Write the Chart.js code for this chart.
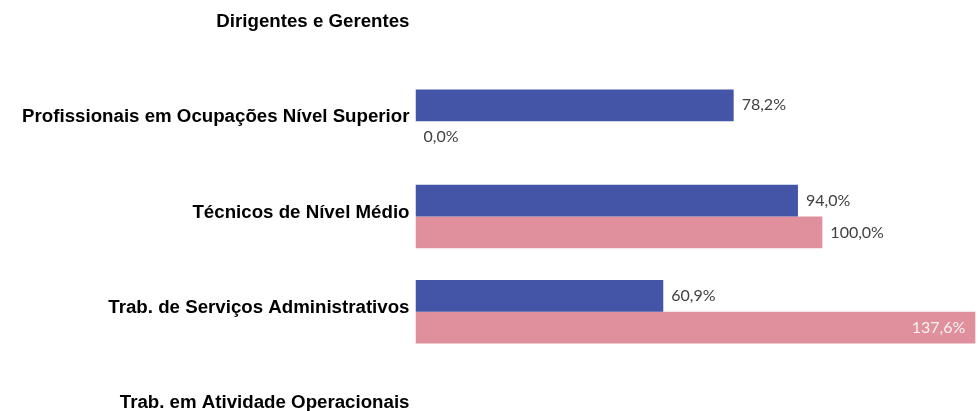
<!DOCTYPE html>
<html>
<head>
<meta charset="utf-8">
<script src="https://cdn.jsdelivr.net/npm/chart.js@4/dist/chart.umd.min.js"></script>
<style>
  html, body { margin: 0; padding: 0; background: #fff; overflow: hidden; width: 979px; height: 411px; }
  #bar-chart { position: absolute; left: 0; top: -39px; width: 979px; height: 511px; }
</style>
</head>
<body>
<canvas id="bar-chart" width="979" height="511"></canvas>
<script>
// categories (top to bottom)
const categories = [
  "Dirigentes e Gerentes",
  "Profissionais em Ocupações Nível Superior",
  "Técnicos de Nível Médio",
  "Trab. de Serviços Administrativos",
  "Trab. em Atividade Operacionais"
];
// series values, in %
const serieAzul = [null, 78.2, 94.0, 60.9, null];
const serieRosa = [null, 0.0, 100.0, 137.6, null];
const xMax = 138.5;

// draws "78,2%" style labels at the end of each bar
const valueLabels = {
  id: "valueLabels",
  afterDatasetsDraw(chart) {
    const ctx = chart.ctx;
    const area = chart.chartArea;
    ctx.save();
    ctx.font = "16px Lato";
    ctx.textBaseline = "middle";
    chart.data.datasets.forEach((ds, i) => {
      const meta = chart.getDatasetMeta(i);
      meta.data.forEach((bar, j) => {
        const v = ds.data[j];
        if (v === null || v === undefined) return;
        const text = v.toFixed(1).replace(".", ",") + "%";
        const w = ctx.measureText(text).width;
        if (bar.x + 8 + w > area.right) {
          ctx.fillStyle = "#f4f4f4";
          ctx.textAlign = "right";
          ctx.fillText(text, bar.x - 10, bar.y);
        } else {
          ctx.fillStyle = "#404040";
          ctx.textAlign = "left";
          ctx.fillText(text, bar.x + 8, bar.y);
        }
      });
    });
    ctx.restore();
  }
};

const chart = new Chart(document.getElementById("bar-chart"), {
  type: "bar",
  data: {
    labels: categories,
    datasets: [
      {
        label: "Série 1",
        data: serieAzul,
        backgroundColor: "#4454a7",
        borderWidth: 0
      },
      {
        label: "Série 2",
        data: serieRosa,
        backgroundColor: "#e08f9d",
        borderWidth: 0
      }
    ]
  },
  options: {
    indexAxis: "y",
    responsive: false,
    animation: false,
    layout: { padding: 0 },
    datasets: {
      bar: { categoryPercentage: 0.665, barPercentage: 1.0 }
    },
    plugins: {
      legend: { display: false },
      title: { display: false },
      tooltip: { enabled: false }
    },
    scales: {
      x: {
        display: false,
        min: 0,
        max: xMax
      },
      y: {
        grid: { display: false, drawTicks: false },
        border: { display: false },
        ticks: {
          color: "#000",
          font: { family: "'Liberation Sans', Arial", size: 18.7, weight: "bold" },
          padding: 6,
          labelOffset: -4
        },
        afterFit(scale) { scale.width = 415.5; }
      }
    }
  },
  plugins: [valueLabels]
});
</script>
</body>
</html>
